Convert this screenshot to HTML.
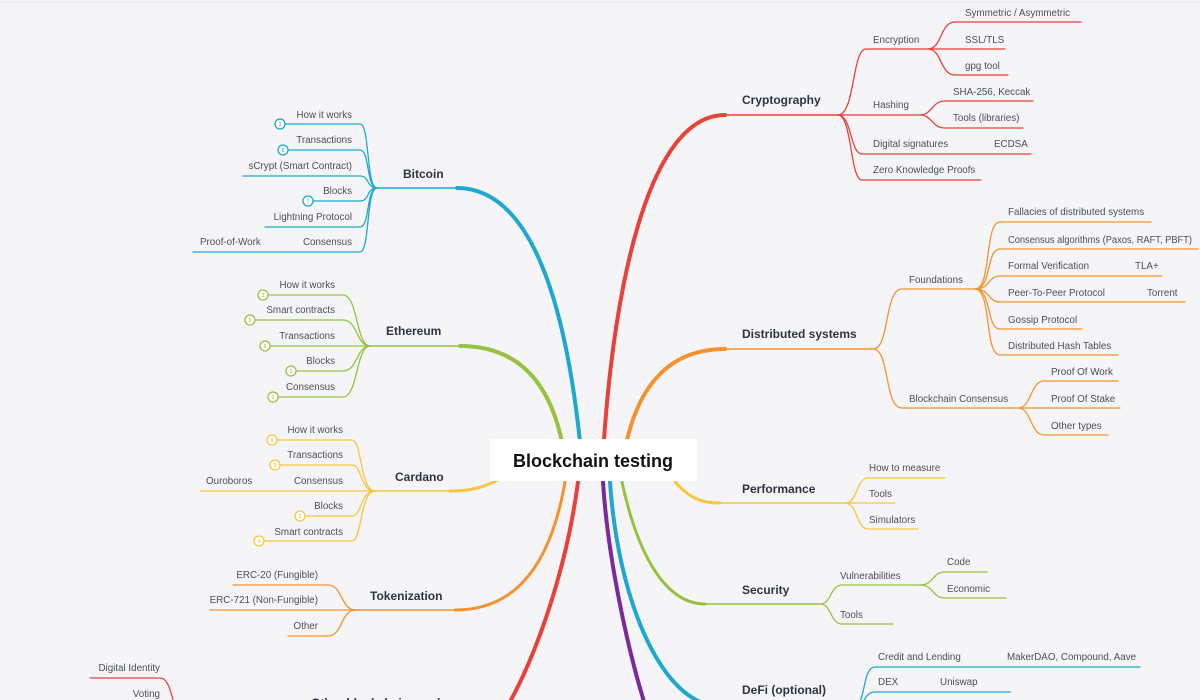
<!DOCTYPE html>
<html><head><meta charset="utf-8"><style>
html,body{margin:0;padding:0;background:#f5f5f7;}
svg{display:block;}
text{font-family:"Liberation Sans",sans-serif;}
.l{font-size:9.8px;fill:#4a4f5a;}
.b{font-size:12px;font-weight:bold;fill:#2f3440;}
.n{font-size:5px;}
</style></head><body>
<svg width="1200" height="700" viewBox="0 0 1200 700" xmlns="http://www.w3.org/2000/svg">
<rect width="1200" height="700" fill="#f5f5f7"/>
<line x1="0" y1="2" x2="1200" y2="2" stroke="#e2e2e6" stroke-width="1"/>
<g fill="none" stroke-linecap="round">
<path d="M580 442 C565 300,530 188,457 188" stroke="#1ea8d0" stroke-width="4"/>
<path d="M457 188 L377 188" stroke="#1ea8d0" stroke-width="1.5"/>
<path d="M562 442 C550 385,520 346,460 346" stroke="#97c23f" stroke-width="4"/>
<path d="M460 346 L370 346" stroke="#97c23f" stroke-width="1.5"/>
<path d="M505 476 C485 488,470 491,450 491" stroke="#f8c540" stroke-width="3"/>
<path d="M450 491 L373 491" stroke="#f8c540" stroke-width="1.5"/>
<path d="M565 482 C548 580,505 610,455 610" stroke="#f5922e" stroke-width="3"/>
<path d="M455 610 L355 610" stroke="#f5922e" stroke-width="1.5"/>
<path d="M578 482 C565 580,530 670,505 710" stroke="#e8413a" stroke-width="4"/>
<path d="M604 440 C615 280,650 115,725 115" stroke="#e8413a" stroke-width="4"/>
<path d="M725 115 L838 115" stroke="#e8413a" stroke-width="1.5"/>
<path d="M627 440 C640 385,670 349,725 349" stroke="#f5922e" stroke-width="4"/>
<path d="M725 349 L873 349" stroke="#f5922e" stroke-width="1.5"/>
<path d="M675 482 C690 498,700 503,720 503" stroke="#f8c540" stroke-width="3"/>
<path d="M720 503 L845 503" stroke="#f8c540" stroke-width="1.5"/>
<path d="M622 482 C640 565,670 604,705 604" stroke="#97c23f" stroke-width="3"/>
<path d="M705 604 L820 604" stroke="#97c23f" stroke-width="1.5"/>
<path d="M610 482 C618 600,660 695,710 705" stroke="#1ea8d0" stroke-width="4"/>
<path d="M603 482 C608 560,628 650,645 705" stroke="#7b2a9a" stroke-width="4"/>

<g stroke="#1ea8d0" stroke-width="1.3">
<path d="M377 188 C366 188,370 124,360 124 L285 124"/>
<path d="M377 188 C366 188,370 150,360 150 L288 150"/>
<path d="M377 188 C366 188,370 176,360 176 L243 176"/>
<path d="M377 188 C366 188,370 201,360 201 L313 201"/>
<path d="M377 188 C366 188,370 227,360 227 L265 227"/>
<path d="M377 188 C366 188,370 252,360 252 L193 252"/>
<circle cx="280" cy="124" r="5" fill="#fff"/><circle cx="283" cy="150" r="5" fill="#fff"/><circle cx="308" cy="201" r="5" fill="#fff"/>
</g>
<g stroke="#97c23f" stroke-width="1.3">
<path d="M370 346 C356 346,358 295,343 295 L268 295"/>
<path d="M370 346 C356 346,358 320,343 320 L255 320"/>
<path d="M370 346 L270 346"/>
<path d="M370 346 C356 346,358 371,343 371 L296 371"/>
<path d="M370 346 C356 346,358 397,343 397 L278 397"/>
<circle cx="263" cy="295" r="5" fill="#fff"/><circle cx="250" cy="320" r="5" fill="#fff"/><circle cx="265" cy="346" r="5" fill="#fff"/><circle cx="291" cy="371" r="5" fill="#fff"/><circle cx="273" cy="397" r="5" fill="#fff"/>
</g>
<g stroke="#f8c540" stroke-width="1.3">
<path d="M375 491 C360 491,362 440,352 440 L277 440"/>
<path d="M375 491 C360 491,362 465,352 465 L280 465"/>
<path d="M375 491 L200 491"/>
<path d="M375 491 C360 491,362 516,352 516 L305 516"/>
<path d="M375 491 C360 491,362 541,352 541 L264 541"/>
<circle cx="272" cy="440" r="5" fill="#fff"/><circle cx="275" cy="465" r="5" fill="#fff"/><circle cx="300" cy="516" r="5" fill="#fff"/><circle cx="259" cy="541" r="5" fill="#fff"/>
</g>
<g stroke="#f5922e" stroke-width="1.3">
<path d="M356 610 C340 610,343 585,328 585 L233 585"/>
<path d="M356 610 L210 610"/>
<path d="M356 610 C340 610,343 636,328 636 L288 636"/>
</g>
<g stroke="#e8413a" stroke-width="1.3">
<path d="M90 678 L160 678 C170 678,172 700,176 710"/>
</g>

<g stroke="#e8413a" stroke-width="1.3">
<path d="M838 115 C855 115,852 49,866 49 L928 49"/>
<path d="M838 115 L920 115"/>
<path d="M838 115 C852 115,850 154,862 154 L1031 154"/>
<path d="M838 115 C852 115,850 180,862 180 L981 180"/>
<path d="M928 49 C942 49,940 22,955 22 L1081 22"/>
<path d="M928 49 L1005 49"/>
<path d="M928 49 C942 49,940 75,955 75 L1008 75"/>
<path d="M920 115 C932 115,932 101,945 101 L1033 101"/>
<path d="M920 115 C932 115,932 128,945 128 L1023 128"/>
</g>
<g stroke="#f5922e" stroke-width="1.3">
<path d="M873 349 C890 349,884 289,902 289 L975 289"/>
<path d="M873 349 C890 349,884 408,902 408 L1018 408"/>
<path d="M975 289 C992 289,984 222,1000 222 L1151 222"/>
<path d="M975 289 C992 289,986 249,1000 249 L1198 249"/>
<path d="M975 289 C990 289,988 276,1000 276 L1162 276"/>
<path d="M975 289 C990 289,988 302,1000 302 L1185 302"/>
<path d="M975 289 C992 289,986 329,1000 329 L1082 329"/>
<path d="M975 289 C992 289,984 355,1000 355 L1118 355"/>
<path d="M1018 408 C1032 408,1030 381,1044 381 L1118 381"/>
<path d="M1018 408 L1120 408"/>
<path d="M1018 408 C1032 408,1030 435,1044 435 L1108 435"/>
</g>
<g stroke="#f8c540" stroke-width="1.3">
<path d="M845 503 C858 503,856 478,868 478 L945 478"/>
<path d="M845 503 L895 503"/>
<path d="M845 503 C858 503,856 529,868 529 L918 529"/>
</g>
<g stroke="#97c23f" stroke-width="1.3">
<path d="M820 604 C832 604,830 585,842 585 L920 585"/>
<path d="M820 604 C832 604,830 624,842 624 L893 624"/>
<path d="M920 585 C934 585,932 572,945 572 L987 572"/>
<path d="M920 585 C934 585,932 598,945 598 L1006 598"/>
</g>
<g stroke="#1ea8d0" stroke-width="1.3">
<path d="M855 705 C866 705,862 667,875 667 L1140 667"/>
<path d="M855 705 C866 705,864 692,875 692 L1010 692"/>
<path d="M710 705 L860 705"/>
</g>
</g>

<rect x="490" y="439" width="207" height="42" fill="#fff"/>
<text x="593" y="467" text-anchor="middle" style="font-size:18px;font-weight:bold;fill:#111">Blockchain testing</text>

<text class="b" x="403" y="178">Bitcoin</text>
<text class="b" x="386" y="335">Ethereum</text>
<text class="b" x="395" y="481">Cardano</text>
<text class="b" x="370" y="600">Tokenization</text>
<text class="b" x="311" y="707">Other blockchains and</text>
<text class="b" x="742" y="104">Cryptography</text>
<text class="b" x="742" y="338">Distributed systems</text>
<text class="b" x="742" y="493">Performance</text>
<text class="b" x="742" y="594">Security</text>
<text class="b" x="742" y="694">DeFi (optional)</text>

<g class="l" text-anchor="end">
<text x="352" y="118">How it works</text>
<text x="352" y="143">Transactions</text>
<text x="352" y="169">sCrypt (Smart Contract)</text>
<text x="352" y="194">Blocks</text>
<text x="352" y="220">Lightning Protocol</text>
<text x="352" y="245">Consensus</text>
<text x="335" y="288">How it works</text>
<text x="335" y="313">Smart contracts</text>
<text x="335" y="339">Transactions</text>
<text x="335" y="364">Blocks</text>
<text x="335" y="390">Consensus</text>
<text x="343" y="433">How it works</text>
<text x="343" y="458">Transactions</text>
<text x="343" y="484">Consensus</text>
<text x="343" y="509">Blocks</text>
<text x="343" y="535">Smart contracts</text>
<text x="318" y="578">ERC-20 (Fungible)</text>
<text x="318" y="603">ERC-721 (Non-Fungible)</text>
<text x="318" y="629">Other</text>
<text x="160" y="671">Digital Identity</text>
<text x="160" y="697">Voting</text>
</g>
<g class="l">
<text x="200" y="245">Proof-of-Work</text>
<text x="206" y="484">Ouroboros</text>
</g>
<g class="n" text-anchor="middle" fill="#1ea8d0">
<text x="280" y="126">3</text><text x="283" y="152">6</text><text x="308" y="203">7</text>
</g>
<g class="n" text-anchor="middle" fill="#97c23f">
<text x="263" y="297">3</text><text x="250" y="322">5</text><text x="265" y="348">6</text><text x="291" y="373">5</text><text x="273" y="399">2</text>
</g>
<g class="n" text-anchor="middle" fill="#e8b820">
<text x="272" y="442">6</text><text x="275" y="467">5</text><text x="300" y="518">3</text><text x="259" y="543">4</text>
</g>

<g class="l">
<text x="873" y="43">Encryption</text>
<text x="965" y="16">Symmetric / Asymmetric</text>
<text x="965" y="43">SSL/TLS</text>
<text x="965" y="69">gpg tool</text>
<text x="873" y="108">Hashing</text>
<text x="953" y="95">SHA-256, Keccak</text>
<text x="953" y="121">Tools (libraries)</text>
<text x="873" y="147">Digital signatures</text>
<text x="994" y="147">ECDSA</text>
<text x="873" y="173">Zero Knowledge Proofs</text>
<text x="909" y="283">Foundations</text>
<text x="1008" y="215">Fallacies of distributed systems</text>
<text x="1008" y="243" textLength="184" lengthAdjust="spacingAndGlyphs">Consensus algorithms (Paxos, RAFT, PBFT)</text>
<text x="1008" y="269">Formal Verification</text>
<text x="1135" y="269">TLA+</text>
<text x="1008" y="296">Peer-To-Peer Protocol</text>
<text x="1147" y="296">Torrent</text>
<text x="1008" y="323">Gossip Protocol</text>
<text x="1008" y="349">Distributed Hash Tables</text>
<text x="909" y="402">Blockchain Consensus</text>
<text x="1051" y="375">Proof Of Work</text>
<text x="1051" y="402">Proof Of Stake</text>
<text x="1051" y="429">Other types</text>
<text x="869" y="471">How to measure</text>
<text x="869" y="497">Tools</text>
<text x="869" y="523">Simulators</text>
<text x="840" y="579">Vulnerabilities</text>
<text x="947" y="565">Code</text>
<text x="947" y="592">Economic</text>
<text x="840" y="618">Tools</text>
<text x="878" y="660">Credit and Lending</text>
<text x="1007" y="660">MakerDAO, Compound, Aave</text>
<text x="878" y="685">DEX</text>
<text x="940" y="685">Uniswap</text>
</g>
</svg>
</body></html>
